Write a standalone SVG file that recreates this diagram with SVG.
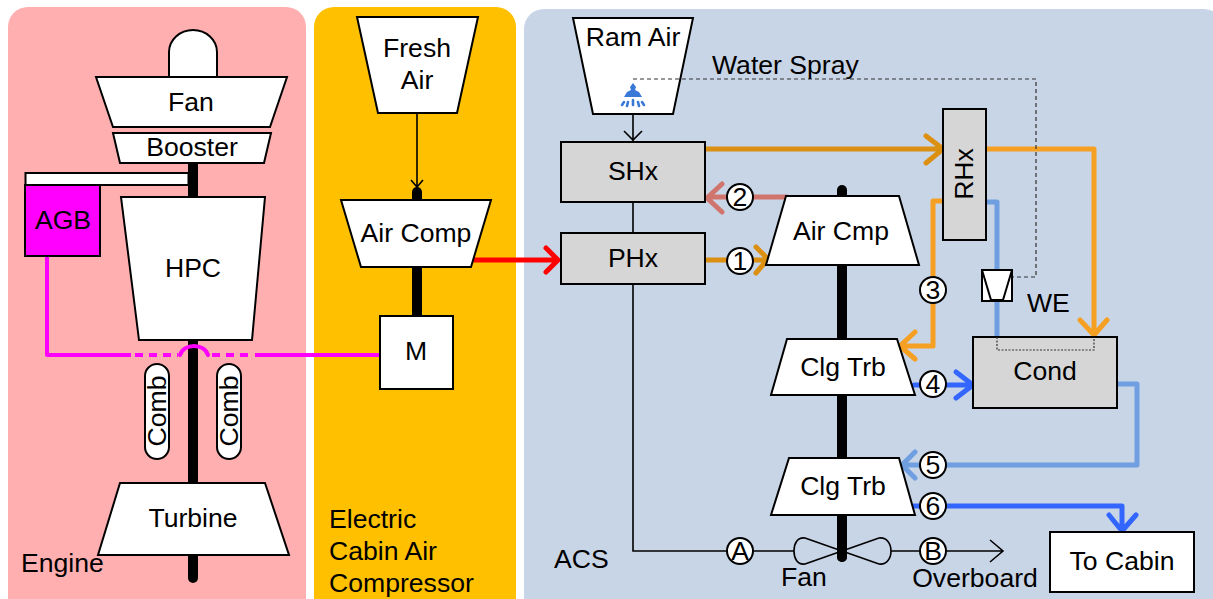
<svg xmlns="http://www.w3.org/2000/svg" width="1213" height="599" viewBox="0 0 1213 599">
<style>
text{font-family:"Liberation Sans",Arial,sans-serif;font-size:26.6px;fill:#000}
.m{text-anchor:middle}
.n{fill:#fff;stroke:#000;stroke-width:2;stroke-linejoin:miter}
.g{fill:#d6d6d6;stroke:#000;stroke-width:2}
.c{fill:none;stroke-width:5;stroke-linecap:round;stroke-linejoin:round}
.t{fill:none;stroke:#000;stroke-width:1.6}
.d{fill:none;stroke:#333;stroke-width:1.2;stroke-dasharray:4 3}
.s{fill:none;stroke:#000;stroke-width:10;stroke-linecap:round}
.o{fill:#fff;stroke:#000;stroke-width:2}
.p{stroke:#ff00ff;stroke-width:4}
</style>
<g id="panels">
<rect x="8" y="7" width="298" height="610" rx="20" fill="#ffafaf"/>
<rect x="314" y="7" width="202" height="610" rx="20" fill="#ffc000"/>
<rect x="524" y="9" width="700" height="608" rx="20" fill="#c8d5e6"/>
</g>
<g id="connectors">
<path class="s" d="M193 160V578"/>
<path class="s" d="M417 192V320"/>
<path class="s" d="M842 190V557"/>
<path class="t" d="M417 113V187M411 180L417 187L423 180"/>
<path class="t" d="M633 114V141M624 131L633 140L642 131"/>
<path class="t" d="M633 202V233M633 284V551H1002M990 540L1003 551L990 562"/>
<path class="c" stroke="#ff0000" d="M471 260H557M546 248L558 260L546 272"/>
<path class="c" stroke="#dc9012" d="M706 260H767M756 247L768 259L756 273"/>
<path class="c" stroke="#d0756e" d="M787 197H708M722 184L707 198L722 212"/>
<path class="c" stroke="#dc9012" d="M706 149H942M926 136L943 149L926 163"/>
<path class="c" stroke="#f5a023" d="M986 149H1094V334M1080 320L1094 335L1107 320"/>
<path class="c" stroke="#f5a023" d="M943 201H933V346H901M915 332L900 346L915 359"/>
<path class="c" stroke="#6f9fe0" style="stroke-linecap:butt" d="M986 202H997V337"/>
<path class="c" stroke="#3366ff" d="M914 385H972M956 372L973 385L956 398"/>
<path class="c" stroke="#6f9fe0" d="M1117 384H1137V465H903M915 452L902 465L915 478"/>
<path class="c" stroke="#3366ff" d="M914 506H1122V530M1109 515L1122 531L1136 515"/>
<path class="c p" style="stroke-linecap:butt" d="M47 256V355H131"/>
<path class="c p" style="stroke-linecap:butt;stroke-dasharray:8 6" d="M135 355H178"/>
<path class="c p" d="M180 355C184 343 204 343 208 355"/>
<path class="c p" style="stroke-linecap:butt;stroke-dasharray:8 6" d="M212 355H250"/>
<path class="c p" style="stroke-linecap:butt" d="M255 355H380"/>
</g>
<g id="dome"><path class="n" d="M169 77V52A24 22 0 0 1 217 52V77Z"/></g>
<g id="fan"><path class="n" d="M96 77H287L270 127H113Z"/><text class="m" x="191" y="111">Fan</text></g>
<g id="booster"><path class="n" d="M113 133H271L264 163H120Z"/><text class="m" x="192" y="156">Booster</text></g>
<g id="agb-shaft"><rect class="n" x="25.500" y="173" width="163" height="12"/></g>
<g id="agb"><rect x="25" y="185" width="75" height="71" fill="#ff00ff" stroke="#000" stroke-width="2"/><text class="m" x="63" y="229">AGB</text></g>
<g id="hpc"><path class="n" d="M121 197H265L252 340H139Z"/><text class="m" x="193" y="277">HPC</text></g>
<g id="comb1"><rect class="n" x="145" y="364" width="24" height="95" rx="12"/><text class="m" transform="translate(166 411) rotate(-90)">Comb</text></g>
<g id="comb2"><rect class="n" x="217" y="364" width="24" height="95" rx="12"/><text class="m" transform="translate(238 411) rotate(-90)">Comb</text></g>
<g id="turbine"><path class="n" d="M120 483H265L289 555H98Z"/><text class="m" x="193" y="527">Turbine</text></g>
<g id="engine-label"><text x="21" y="572">Engine</text></g>
<g id="fresh-air"><path class="n" d="M357 17H478L457 113H378Z"/><text class="m" x="417" y="57">Fresh</text><text class="m" x="417" y="89">Air</text></g>
<g id="air-comp"><path class="n" d="M341 200H491L471 267H361Z"/><text class="m" x="416" y="242">Air Comp</text></g>
<g id="motor"><rect class="n" x="380" y="316" width="73" height="73"/><text class="m" x="416" y="360">M</text></g>
<g id="ecac-label"><text x="329" y="528">Electric</text><text x="329" y="560">Cabin Air</text><text x="329" y="592">Compressor</text></g>
<g id="ram-air"><path class="n" d="M573 18H693L673 114H593Z"/><text class="m" x="633" y="46">Ram Air</text></g>
<g id="spray-line"><path class="d" d="M633 79H1036V277H1012"/></g>
<g id="spray" fill="#3a78d8" stroke="none">
<path d="M633 83L636 87L635 90L639 92L642 97H624L627 92L631 90L630 87Z"/>
<path fill="none" stroke="#3a78d8" stroke-width="2.600" stroke-linecap="round" d="M624 102L622 105M628 102L627 106M633 100V105M638 102L639 106M642 102L644 105"/>
</g>
<g id="water-spray-label"><text x="712" y="74">Water Spray</text></g>
<g id="shx"><rect class="g" x="561" y="142" width="144" height="60"/><text class="m" x="633" y="180">SHx</text></g>
<g id="phx"><rect class="g" x="561" y="233" width="144" height="51"/><text class="m" x="633" y="267">PHx</text></g>
<g id="air-cmp"><path class="n" d="M786 196H899L919 265H766Z"/><text class="m" x="841" y="240">Air Cmp</text></g>
<g id="rhx"><rect class="g" x="943" y="109" width="43" height="131"/><text class="m" transform="translate(973 174) rotate(-90)">RHx</text></g>
<g id="we"><rect class="n" x="982" y="270" width="30" height="31"/><path class="t" style="stroke-width:2" d="M982 270L991 300H1003L1012 270"/></g>
<g id="we-label"><text x="1027" y="312">WE</text></g>
<g id="cond"><rect class="g" x="973" y="337" width="144" height="71"/><path fill="none" stroke="#333" stroke-width="1.200" stroke-dasharray="2 1.500" d="M997 337V350H1094V337"/><text class="m" x="1045" y="380">Cond</text></g>
<g id="clg-trb-1"><path class="n" d="M787 339H897L915 395H771Z"/><text class="m" x="843" y="376">Clg Trb</text></g>
<g id="clg-trb-2"><path class="n" d="M789 458H899L915 515H771Z"/><text class="m" x="843" y="495">Clg Trb</text></g>
<g id="acs-fan"><path fill="#c8d5e6" stroke="#000" stroke-width="1.600" stroke-linejoin="round" d="M842 551L805 538C797 537 794 544 794 551C794 558 797 565 805 564L842 551L879 538C887 537 891 544 891 551C891 558 887 565 879 564Z"/></g>
<path class="s" d="M842 540V557"/>
<g id="state-1"><circle class="o" cx="740" cy="261" r="13"/><text class="m" x="740" y="270">1</text></g>
<g id="state-2"><circle class="o" cx="740" cy="197" r="13"/><text class="m" x="740" y="206">2</text></g>
<g id="state-3"><circle class="o" cx="933" cy="290" r="13"/><text class="m" x="933" y="299">3</text></g>
<g id="state-4"><circle class="o" cx="933" cy="384" r="13"/><text class="m" x="933" y="393">4</text></g>
<g id="state-5"><circle class="o" cx="933" cy="465" r="13"/><text class="m" x="933" y="474">5</text></g>
<g id="state-6"><circle class="o" cx="933" cy="506" r="13"/><text class="m" x="933" y="515">6</text></g>
<g id="state-a"><circle class="o" cx="740" cy="551" r="13"/><text class="m" x="740" y="560">A</text></g>
<g id="state-b"><circle class="o" cx="933" cy="551" r="13"/><text class="m" x="933" y="560">B</text></g>
<g id="fan-label"><text class="m" x="804" y="586">Fan</text></g>
<g id="overboard-label"><text class="m" x="975" y="587">Overboard</text></g>
<g id="acs-label"><text x="554" y="568">ACS</text></g>
<g id="to-cabin"><rect class="n" x="1050" y="532" width="144" height="60"/><text class="m" x="1122" y="570">To Cabin</text></g>
</svg>
